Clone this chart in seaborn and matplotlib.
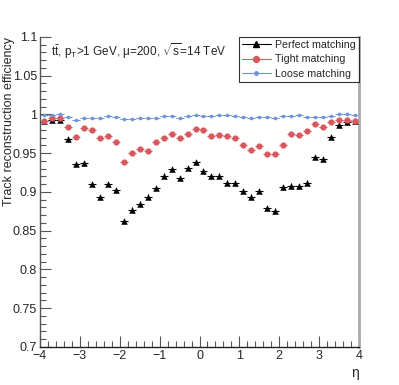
import numpy as np
import pandas as pd
import matplotlib
matplotlib.use("Agg")
import matplotlib.pyplot as plt
from matplotlib.lines import Line2D
from matplotlib.ticker import MultipleLocator
import seaborn as sns

eta = [-3.9, -3.7, -3.5, -3.3, -3.1, -2.9, -2.7, -2.5, -2.3, -2.1,
       -1.9, -1.7, -1.5, -1.3, -1.1, -0.9, -0.7, -0.5, -0.3, -0.1,
       0.1, 0.3, 0.5, 0.7, 0.9, 1.1, 1.3, 1.5, 1.7, 1.9,
       2.1, 2.3, 2.5, 2.7, 2.9, 3.1, 3.3, 3.5, 3.7, 3.9]

perfect = [0.991, 0.993, 0.993, 0.968, 0.936, 0.937, 0.910, 0.893, 0.910, 0.902,
           0.862, 0.877, 0.885, 0.894, 0.905, 0.921, 0.929, 0.918, 0.931, 0.938,
           0.927, 0.920, 0.921, 0.912, 0.911, 0.901, 0.894, 0.901, 0.879, 0.876,
           0.906, 0.908, 0.907, 0.912, 0.945, 0.942, 0.971, 0.987, 0.990, 0.991]

tight = [0.992, 0.995, 0.996, 0.984, 0.971, 0.983, 0.980, 0.970, 0.972, 0.964,
         0.939, 0.950, 0.955, 0.953, 0.964, 0.970, 0.975, 0.970, 0.975, 0.981,
         0.980, 0.972, 0.974, 0.972, 0.969, 0.960, 0.954, 0.959, 0.949, 0.949,
         0.961, 0.975, 0.974, 0.978, 0.988, 0.984, 0.990, 0.993, 0.993, 0.992]

loose = [0.999, 0.999, 1.000, 0.997, 0.993, 0.996, 0.996, 0.996, 0.998, 0.997,
         0.994, 0.994, 0.996, 0.995, 0.995, 0.998, 0.998, 0.996, 0.998, 0.999,
         0.998, 0.998, 0.999, 0.999, 0.998, 0.997, 0.996, 0.997, 0.997, 0.996,
         0.998, 0.998, 0.999, 0.997, 0.997, 0.997, 0.998, 1.000, 1.000, 0.999]

labels = ["Perfect matching", "Tight matching", "Loose matching"]
yerrs = [0.003, 0.002, 0.001]
xticks = [-4, -3, -2, -1, 0, 1, 2, 3, 4]
xticklabels = ["\u22124", "\u22123", "\u22122", "\u22121", "0", "1", "2", "3", "4"]
yticks = [0.7, 0.75, 0.8, 0.85, 0.9, 0.95, 1.0, 1.05, 1.1]
yticklabels = ["0.7", "0.75", "0.8", "0.85", "0.9", "0.95", "1", "1.05", "1.1"]

df = pd.concat([
    pd.DataFrame({"eta": eta, "eff": perfect, "match": labels[0]}),
    pd.DataFrame({"eta": eta, "eff": tight, "match": labels[1]}),
    pd.DataFrame({"eta": eta, "eff": loose, "match": labels[2]}),
])

colors = {labels[0]: "black", labels[1]: "#d9585d", labels[2]: "#6f94dc"}
markers = {labels[0]: "^", labels[1]: "o", labels[2]: "o"}
msize = {labels[0]: 22, labels[1]: 20, labels[2]: 7}

sns.set_theme(style="ticks")
plt.rcParams["font.family"] = ["Liberation Sans", "DejaVu Sans"]
plt.rcParams["mathtext.fontset"] = "custom"
plt.rcParams["mathtext.rm"] = "Liberation Sans"
plt.rcParams["mathtext.it"] = "Liberation Sans"

fig = plt.figure(figsize=(3.99, 3.85), dpi=100)
ax = fig.add_axes([0.10, 0.099, 0.80, 0.805])

for lab, ye in zip(labels, yerrs):
    sub = df[df["match"] == lab]
    ax.errorbar(sub["eta"], sub["eff"], xerr=0.1, yerr=ye, fmt="none",
                ecolor=colors[lab], elinewidth=0.8, capsize=0, zorder=2)
    sns.scatterplot(data=sub, x="eta", y="eff", color=colors[lab],
                    marker=markers[lab], s=msize[lab], linewidth=0,
                    ax=ax, zorder=3, legend=False)

ax.set_xlim(-4, 4)
ax.set_ylim(0.7, 1.1)
ax.set_xticks(xticks)
ax.set_xticklabels(xticklabels)
ax.set_yticks(yticks)
ax.set_yticklabels(yticklabels)
ax.xaxis.set_minor_locator(MultipleLocator(0.2))
ax.yaxis.set_minor_locator(MultipleLocator(0.01))
ax.tick_params(which="major", direction="in", length=8, width=0.8, labelsize=9,
               color="#555555", pad=2)
ax.tick_params(which="minor", direction="in", length=4, width=0.8, color="#555555")
ax.tick_params(axis="y", which="both", right=False)
ax.tick_params(axis="x", which="both", top=False)

ax.spines["top"].set_visible(False)
ax.spines["right"].set_color("#aaaaaa")
ax.spines["right"].set_linewidth(2)
ax.spines["left"].set_color("#555555")
ax.spines["bottom"].set_color("#222222")
ax.spines["left"].set_linewidth(1.0)
ax.spines["bottom"].set_linewidth(1.0)

ax.set_xlabel("\u03b7", fontsize=10, loc="right", labelpad=3)
ax.set_ylabel("Track reconstruction efficiency", fontsize=9, loc="top")
ax.yaxis.set_label_coords(-0.078, 1.0)

ax.text(-3.72, 1.082, r"t$\bar{\mathrm{t}}$, p$_{\mathrm{T}}$>1 GeV, $\mu$=200, $\sqrt{\mathrm{s}}$=14 TeV",
        fontsize=8.5, ha="left", va="center")

handles = [Line2D([], [], color=colors[l], marker=markers[l], linewidth=0.8,
                  markersize=np.sqrt(msize[l]) * 0.95) for l in labels]
leg = ax.legend(handles, labels, loc="upper right", bbox_to_anchor=(1.0, 1.0),
                fontsize=7.7, frameon=True, fancybox=False, borderpad=0.3,
                labelspacing=0.4, handlelength=2.7, handletextpad=0.4,
                borderaxespad=0.0)
leg.get_frame().set_edgecolor("black")
leg.get_frame().set_linewidth(0.8)

fig.savefig("out.png", dpi=100)
